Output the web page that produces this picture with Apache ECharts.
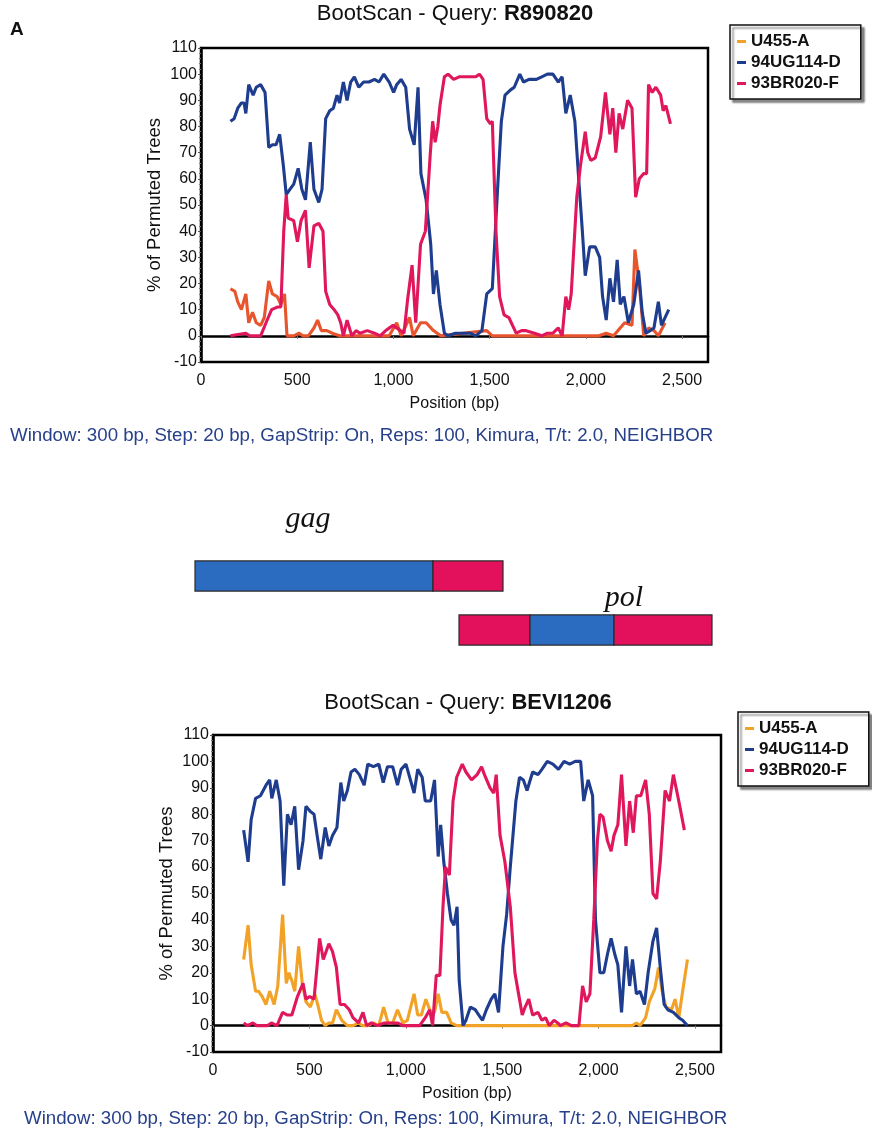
<!DOCTYPE html>
<html>
<head>
<meta charset="utf-8">
<script src="https://cdn.jsdelivr.net/npm/echarts@6/dist/echarts.min.js"></script>
<style>
    html, body { margin: 0; padding: 0; background: #fff; }
    #main { width: 872px; height: 1131px; }
</style>
</head>
<body>
<div id="main"></div>
<script>
    // ---- data ----
    var seriesNames = ['U455-A', '94UG114-D', '93BR020-F'];
    var xMax = 2635;            // right edge of the plot box (bp)
    var yMin = -10, yMax = 110; // % of permuted trees

    // panel 1: query R890820
    var r8PosA = [153,176,191,210,233,248,268,287,310,329,352,371,396,415,434,447,482,510,529,558,587,606,625,654,682,720,902,978,1017,1040,1084,1103,1141,1170,1208,1246,1485,1514,2068,2106,2144,2202,2240,2255,2278,2301,2326,2354,2377,2412];
    var r8ValA = [18,17,13,10,16,5,9,5,4,7,21,16,15,12,16,0,0,1,0,0,3,6,2,2,1,0,0,0,5,0,7,0,5,5,2,0,2,0,0,1,0,5,4,33,20,0,3,2,0,5];
    var r8PosD = [153,172,191,210,224,233,248,271,287,310,333,352,371,390,409,428,443,462,482,505,524,543,568,587,612,629,648,669,688,707,720,740,759,778,797,820,845,873,902,925,950,978,1001,1017,1040,1064,1084,1108,1128,1143,1170,1194,1208,1223,1242,1265,1284,1322,1361,1399,1428,1460,1485,1514,1542,1561,1580,1609,1628,1657,1676,1705,1743,1771,1800,1829,1857,1877,1896,1919,1943,1963,1982,1997,2020,2049,2072,2087,2106,2125,2144,2163,2179,2198,2221,2249,2274,2293,2312,2335,2354,2377,2393,2431];
    var r8ValD = [82,83,87,89,89,85,96,92,95,96,93,72,73,73,77,65,54,56,58,64,56,52,74,56,51,56,83,86,87,92,89,97,90,97,99,95,97,97,98,97,100,97,93,96,98,95,79,73,95,62,52,35,16,25,12,1,0,1,1,1,0,2,16,18,57,82,92,94,95,100,97,98,98,99,100,100,97,99,85,92,82,60,40,23,34,34,30,15,6,22,13,29,12,15,5,12,25,9,1,2,3,13,4,10];
    var r8PosF = [153,233,252,310,338,367,396,415,430,443,453,482,501,520,543,562,587,612,634,648,669,692,711,726,740,759,784,806,826,864,902,931,960,998,1036,1055,1074,1097,1116,1141,1166,1192,1204,1217,1231,1242,1265,1284,1313,1342,1380,1428,1447,1466,1485,1504,1514,1533,1552,1575,1600,1619,1638,1666,1686,1733,1771,1800,1829,1857,1877,1896,1911,1924,1953,1972,1997,2010,2026,2049,2077,2102,2125,2140,2156,2173,2192,2217,2240,2259,2278,2301,2316,2326,2345,2364,2389,2402,2416,2440];
    var r8ValF = [0,1,0,0,5,10,11,11,40,54,45,44,36,44,48,26,42,43,40,17,12,10,8,5,0,6,0,2,1,2,1,0,2,4,2,1,14,27,5,35,40,70,82,74,80,88,99,100,98,99,99,99,100,98,83,81,82,40,15,8,7,4,1,2,2,1,0,1,1,3,0,15,10,16,53,65,78,70,67,68,76,93,77,87,70,85,79,90,87,53,60,62,62,96,93,95,92,86,88,81];

    // panel 2: query BEVI1206
    var bvPosA = [159,182,198,221,236,255,275,294,317,336,361,380,394,409,424,444,463,482,505,528,543,563,582,601,620,640,668,697,726,755,774,803,832,860,885,908,932,957,985,1008,1043,1062,1081,1104,1129,1149,1168,1187,1212,1235,1264,2176,2196,2215,2244,2263,2292,2311,2330,2349,2378,2397,2416,2436,2461];
    var bvValA = [25,38,23,13,13,11,8,13,8,15,42,16,20,17,13,30,16,9,7,12,8,2,0,1,1,6,2,0,0,1,0,0,1,0,7,1,1,6,1,2,12,4,4,10,5,5,12,5,5,1,0,0,1,0,3,9,14,22,13,7,6,10,3,13,25];
    var bvPosD = [159,182,198,221,246,275,294,305,328,348,367,386,405,424,444,467,482,505,524,540,559,582,601,620,643,663,678,697,716,736,759,784,803,832,860,883,905,932,957,976,1001,1024,1043,1062,1085,1101,1129,1149,1168,1181,1197,1216,1235,1250,1266,1277,1297,1312,1335,1360,1379,1398,1418,1443,1462,1481,1504,1523,1542,1571,1590,1610,1629,1658,1686,1706,1734,1763,1792,1821,1850,1879,1907,1923,1946,1969,1984,2007,2027,2046,2065,2084,2100,2119,2142,2161,2176,2196,2215,2238,2257,2282,2301,2320,2340,2359,2388,2416,2436,2461];
    var bvValD = [74,62,78,86,87,91,93,86,93,85,53,80,76,83,59,70,83,81,80,72,63,75,68,72,75,92,85,89,96,97,95,91,99,98,99,92,98,98,91,97,99,93,88,97,94,85,85,93,64,76,62,50,40,38,45,17,0,2,7,6,4,2,6,10,12,5,30,42,60,85,94,93,89,96,95,97,100,99,97,100,99,100,100,85,93,87,40,20,20,27,33,27,23,5,30,15,25,12,13,8,20,32,37,22,8,6,5,3,2,0];
    var bvPosF = [159,178,207,226,284,303,332,361,386,409,438,467,482,501,524,553,572,601,620,640,659,682,707,726,755,778,797,822,851,889,928,957,985,1024,1072,1101,1124,1139,1158,1177,1193,1206,1226,1245,1264,1293,1312,1341,1370,1393,1408,1437,1456,1469,1489,1514,1542,1566,1585,1604,1619,1638,1658,1686,1706,1725,1744,1769,1788,1802,1831,1859,1898,1917,1936,1955,1975,1994,2007,2023,2046,2065,2080,2100,2119,2142,2161,2180,2196,2219,2244,2263,2282,2301,2320,2345,2368,2388,2416,2445];
    var bvValF = [1,0,1,0,0,1,0,5,4,4,11,16,10,11,10,33,25,31,28,22,8,8,6,3,1,5,0,1,0,1,1,1,0,0,0,3,6,0,19,19,45,60,57,85,94,99,96,93,95,98,95,90,88,95,72,62,45,20,12,4,7,10,4,5,2,3,0,2,1,0,1,0,0,15,9,12,40,70,80,79,70,66,72,76,95,68,85,73,87,87,93,80,50,48,62,89,85,95,85,74];

    // gag / pol recombination map (diagram units along the drawn genes)
    var geneRows = ['gag', 'pol'];
    var segRow = [0, 0, 1, 1, 1];
    var segStart = [0, 238, 264, 335, 419];
    var segEnd = [238, 308, 335, 419, 517];
    var segSubtype = ['D', 'F', 'F', 'D', 'F'];

    // ---- styles ----
    var FONT = '"Liberation Sans", Arial, sans-serif';
    var colA = '#f2a227', colA1 = '#e8542c', colD = '#1f3d8e', colF = '#e0175c';
    var geneCol = { D: '#2b6cc0', F: '#e3105c' };
    var noteColor = '#27408b';
    var footnote = 'Window: 300 bp, Step: 20 bp, GapStrip: On, Reps: 100, Kimura, T/t: 2.0, NEIGHBOR';

    function pairs(pos, val) {
        var out = [];
        for (var i = 0; i < pos.length; i++) out.push([pos[i], val[i]]);
        return out;
    }

    var myChart = echarts.init(document.getElementById('main'));

    var panels = [
        { left: 201, top: 48, width: 507, height: 314, data: [[r8PosA, r8ValA], [r8PosD, r8ValD], [r8PosF, r8ValF]], colors: [colA1, colD, colF], legendLeft: 730, legendTop: 25 },
        { left: 213, top: 735, width: 508, height: 317, data: [[bvPosA, bvValA], [bvPosD, bvValD], [bvPosF, bvValF]], colors: [colA, colD, colF], legendLeft: 738, legendTop: 712 }
    ];

    var grids = [], xAxes = [], yAxes = [], series = [], legends = [];
    panels.forEach(function (p, k) {
        grids.push({ left: p.left, top: p.top, width: p.width, height: p.height, show: true, borderColor: '#000', borderWidth: 2.5, backgroundColor: '#fff' });
        xAxes.push({
            gridIndex: k, type: 'value', min: 0, max: xMax, interval: 500,
            name: 'Position (bp)', nameLocation: 'middle', nameGap: 34, nameMoveOverlap: false,
            nameTextStyle: { fontFamily: FONT, fontSize: 16, color: '#111' },
            axisLine: { lineStyle: { color: '#000', width: 2.5 } },
            axisTick: { show: true, length: 3, lineStyle: { color: '#777' } },
            axisLabel: {
                fontFamily: FONT, fontSize: 16, color: '#111', margin: 11, showMaxLabel: false,
                formatter: function (v) { return v % 500 === 0 ? v.toLocaleString('en-US') : ''; }
            },
            splitLine: { show: false }
        });
        yAxes.push({
            gridIndex: k, type: 'value', min: yMin, max: yMax, interval: 10,
            name: '% of Permuted Trees', nameLocation: 'middle', nameGap: 37, nameMoveOverlap: false,
            nameTextStyle: { fontFamily: FONT, fontSize: 18.5, color: '#111' },
            axisLine: { lineStyle: { color: '#000', width: 2.5 } },
            axisTick: { show: true, length: 3, lineStyle: { color: '#555' } },
            minorTick: { show: true, splitNumber: 5, length: 2, lineStyle: { color: '#777' } },
            axisLabel: { fontFamily: FONT, fontSize: 16, color: '#111', margin: 4 },
            splitLine: { show: false }
        });
        p.data.forEach(function (d, i) {
            series.push({
                name: seriesNames[i], type: 'line', xAxisIndex: k, yAxisIndex: k,
                data: pairs(d[0], d[1]), showSymbol: false, silent: true,
                lineStyle: { color: p.colors[i], width: 3.1 }, itemStyle: { color: p.colors[i] },
                z: 3 + i
            });
        });
        legends.push({
            left: p.legendLeft, top: p.legendTop, orient: 'vertical', selectedMode: false,
            data: seriesNames.map(function (n, i) { return { name: n, itemStyle: { color: [colA, colD, colF][i] } }; }),
            icon: 'rect', itemWidth: 9, itemHeight: 3, itemGap: 4,
            padding: [8, 20, 7, 7],
            borderColor: '#111', borderWidth: 1.5, backgroundColor: '#fff',
            shadowColor: 'rgba(0,0,0,0.45)', shadowOffsetX: 3, shadowOffsetY: 3, shadowBlur: 2,
            textStyle: { fontFamily: FONT, fontSize: 17, fontWeight: 'bold', color: '#111', lineHeight: 17 }
        });
    });

    // gene diagram grid
    grids.push({ left: 195, top: 549, width: 517, height: 108, show: false });
    xAxes.push({ gridIndex: 2, type: 'value', min: 0, max: 517, show: false });
    yAxes.push({ gridIndex: 2, type: 'category', data: geneRows, inverse: true, show: false });
    var segData = segStart.map(function (s, i) { return [s, segEnd[i], segRow[i], segSubtype[i]]; });
    series.push({
        type: 'custom', xAxisIndex: 2, yAxisIndex: 2, silent: true,
        encode: { x: [0, 1], y: 2 },
        data: segData,
        renderItem: function (params, api) {
            var a = api.coord([api.value(0), api.value(2)]);
            var b = api.coord([api.value(1), api.value(2)]);
            var h = api.size([0, 1])[1] * 0.56;
            return {
                type: 'rect',
                shape: { x: a[0], y: a[1] - h / 2, width: b[0] - a[0], height: h },
                style: { fill: geneCol[segData[params.dataIndex][3]], stroke: '#2a2a2a', lineWidth: 1.2 }
            };
        }
    });

    var option = {
        backgroundColor: '#fff',
        animation: false,
        grid: grids, xAxis: xAxes, yAxis: yAxes, legend: legends, series: series,
        graphic: [
            { type: 'text', x: 10, y: 20, style: { text: 'A', font: 'bold 19px ' + FONT, fill: '#111' } },
            { type: 'text', x: 455, y: 14, style: { text: 'BootScan - Query: {b|R890820}', font: '22px ' + FONT, fill: '#111', align: 'center', verticalAlign: 'middle', rich: { b: { fontWeight: 'bold', fontSize: 22, fontFamily: FONT } } } },
            { type: 'text', x: 10, y: 436, style: { text: footnote, font: '18.7px ' + FONT, fill: noteColor, verticalAlign: 'middle' } },
            { type: 'text', x: 308, y: 519, z: 100, style: { text: 'gag', font: 'italic 30px "Liberation Serif", serif', fill: '#111', align: 'center', verticalAlign: 'middle' } },
            { type: 'text', x: 624, y: 598, z: 100, style: { text: 'pol', font: 'italic 30px "Liberation Serif", serif', fill: '#111', align: 'center', verticalAlign: 'middle' } },
            { type: 'text', x: 468, y: 703, style: { text: 'BootScan - Query: {b|BEVI1206}', font: '22px ' + FONT, fill: '#111', align: 'center', verticalAlign: 'middle', rich: { b: { fontWeight: 'bold', fontSize: 22, fontFamily: FONT } } } },
            { type: 'text', x: 24, y: 1119, style: { text: footnote, font: '18.7px ' + FONT, fill: noteColor, verticalAlign: 'middle' } }
        ]
    };
    myChart.setOption(option);
</script>
</body>
</html>
